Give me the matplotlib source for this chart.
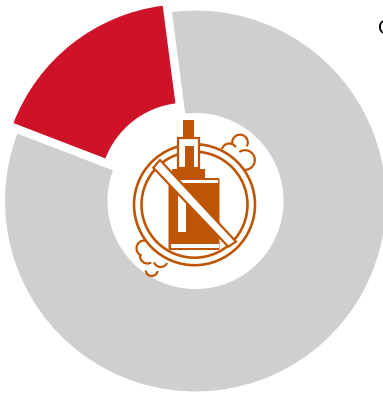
import matplotlib
matplotlib.use("Agg")
import matplotlib.pyplot as plt
from matplotlib.patches import Arc, Circle, FancyBboxPatch, Polygon, Rectangle

# Share of respondents in each group
categories = ["Use", "Do not use"]
shares = [17.1, 82.9]
slice_colors = ["#CE1228", "#D0CECF"]
heading = "C"

ICON = "#BE5504"
W, H = 383, 395
PX = 72 / 100  # one pixel in points at this dpi


def Y(py):
    return H - py


fig = plt.figure(figsize=(W / 100, H / 100), dpi=100, facecolor="white")
ax = fig.add_axes([0, 0, 1, 1])

# Donut, with the smaller group pulled out from the ring
wedges, _ = ax.pie(
    shares,
    colors=slice_colors,
    startangle=97.4,
    explode=[14.4, 0],
    radius=191.5,
    center=(195.5, Y(201)),
    wedgeprops=dict(width=104.5, edgecolor="white", linewidth=1.5),
)
wedges[0].set_radius(185.5)
wedges[0].set_width(98.5)
wedges[0].set_edgecolor("none")
ax.set_xlim(0, W)
ax.set_ylim(0, H)
ax.set_aspect("equal")
ax.axis("off")


def box(x0, y0, x1, y1, fc=ICON, ec="none", lw=0.0, z=3):
    ax.add_patch(Rectangle((x0, Y(y1)), x1 - x0, y1 - y0, fc=fc, ec=ec,
                           lw=lw * PX, zorder=z))


def arc(cx, cy, r, a0, a1, lw=2.2):
    ax.add_patch(Arc((cx, Y(cy)), 2 * r, 2 * r, theta1=a0, theta2=a1,
                     color=ICON, lw=lw * PX, zorder=3))


# Prohibition ring
for r in (60.5, 53):
    ax.add_patch(Circle((194.5, Y(204.7)), r, fc="none", ec=ICON,
                        lw=2.6 * PX, zorder=3))

# Smoke puffs, upper right
arc(240, 142.5, 7.8, -30, 190)
arc(229.3, 151, 7.5, 30, 165)
arc(245, 160, 9.8, -100, 125)

# Smoke puffs, lower left
arc(144.3, 248.3, 7.8, 85, 250)
arc(147.5, 256, 7.5, 170, 300)
arc(160.7, 260, 7, 200, 335)
arc(151.7, 270, 6, 185, 350)

# Vape pen: mouthpiece, tank, collar and body
box(183.3, 120, 194.3, 138)
box(178, 138, 199, 168, fc="white", ec=ICON, lw=2.2, z=4)
box(185, 146, 194.3, 169, z=5)
box(172, 168.5, 205, 178, z=5)
ax.add_patch(FancyBboxPatch((168.5, Y(250)), 51, 72, zorder=5, fc=ICON, ec="none",
                            boxstyle="round,pad=0,rounding_size=1.5"))
box(180, 180, 218, 183.3, fc="white", z=6)
box(170.5, 243.5, 218.5, 247.5, fc="white", z=6)
box(177.7, 193, 186, 232, fc="white", z=6)

# Diagonal bar across the pen
ax.add_patch(Polygon(
    [(160, Y(160)), (236, Y(241.7)), (228.3, Y(246.7)), (153.3, Y(167.7))],
    closed=True, fc="white", ec=ICON, lw=2.2 * PX, zorder=7, joinstyle="miter"))

fig.text(378 / W, Y(34.5) / H, heading, fontsize=15, family="Liberation Sans",
         color="black", ha="left", va="baseline")

fig.savefig("out.png", dpi=100)
